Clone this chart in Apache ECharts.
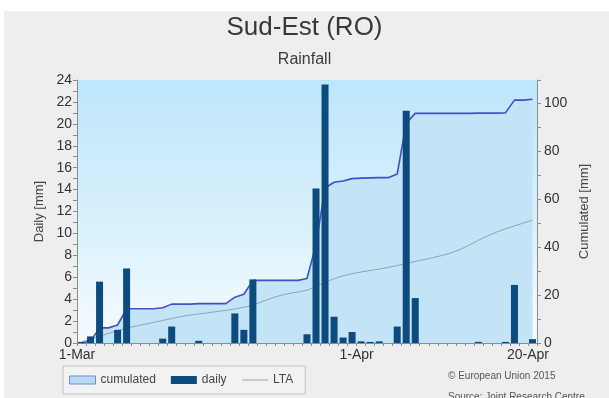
<!DOCTYPE html>
<html>
<head>
<meta charset="utf-8">
<title>Sud-Est (RO) - Rainfall</title>
<script src="https://cdn.jsdelivr.net/npm/echarts@6/dist/echarts.min.js"></script>
<style>
  html, body { margin: 0; padding: 0; background: #ffffff; }
  #frame { position: absolute; left: 4px; top: 11px; width: 605px; height: 387px; background: #eeeeee; }
  #chart { position: absolute; left: 0; top: 0; width: 609px; height: 398px; }
</style>
</head>
<body>
<div id="frame"></div>
<div id="chart"></div>
<script>
// Daily rainfall [mm], 1 March .. 20 April (51 days)
const daily = [
  0.1, 0.6, 5.6, 0, 1.2, 6.8, 0, 0, 0, 0.4,
  1.5, 0, 0, 0.2, 0, 0, 0, 2.7, 1.2, 5.8,
  0, 0, 0, 0, 0, 0.8, 14.1, 23.6, 2.4, 0.5,
  1.0, 0.15, 0.1, 0.15, 0, 1.5, 21.2, 4.1, 0, 0,
  0, 0, 0, 0, 0.1, 0, 0, 0.1, 5.3, 0,
  0.35
];

// Cumulated rainfall [mm] for the season
const cumulated = [
  0.1, 0.7, 6.3, 6.3, 7.5, 14.3, 14.3, 14.3, 14.3, 14.7,
  16.2, 16.2, 16.2, 16.4, 16.4, 16.4, 16.4, 19.1, 20.3, 26.1,
  26.1, 26.1, 26.1, 26.1, 26.1, 26.9, 41.0, 64.6, 67.0, 67.5,
  68.5, 68.7, 68.8, 68.9, 68.9, 70.4, 91.6, 95.7, 95.7, 95.7,
  95.7, 95.7, 95.7, 95.7, 95.8, 95.8, 95.8, 95.9, 101.2, 101.2,
  101.6
];

// Long-term average of the cumulated rainfall [mm]
const lta = [
  0.5, 1.5, 2.8, 4.0, 5.2, 6.2, 7.0, 7.8, 8.6, 9.4,
  10.2, 11.0, 11.6, 12.1, 12.6, 13.1, 13.6, 14.2, 14.9, 15.8,
  17.2, 18.6, 19.8, 20.6, 21.3, 22.0, 23.5, 25.2, 26.8, 28.0,
  28.9, 29.6, 30.2, 30.8, 31.5, 32.3, 33.2, 34.0, 34.8, 35.6,
  36.5, 37.6, 39.0, 40.8, 42.8, 44.6, 46.2, 47.6, 48.8, 50.0,
  51.2
];

// Date ticks (day offset from 1 March) and their labels
const tickPositions = [0, 31, 50];
const tickLabels = ['1-Mar', '1-Apr', '20-Apr'];

const FONT = 'Liberation Sans, Arial, sans-serif';
const AXIS_GREY = '#8c8c8c';

// each day occupies one unit; marks sit in the middle of their day
const atDay = arr => arr.map((v, i) => [i + 0.5, v]);

const chart = echarts.init(document.getElementById('chart'), null, { renderer: 'canvas' });

chart.setOption({
  animation: false,
  backgroundColor: 'transparent',
  textStyle: { fontFamily: FONT },
  title: [
    {
      text: 'Sud-Est (RO)',
      left: 'center',
      top: 10,
      textStyle: { fontSize: 26, fontWeight: 'normal', color: '#383838', fontFamily: FONT }
    },
    {
      text: 'Rainfall',
      left: 'center',
      top: 47,
      textStyle: { fontSize: 16, fontWeight: 'normal', color: '#3c3c3c', fontFamily: FONT }
    }
  ],
  grid: {
    left: 77,
    right: 72,
    top: 80,
    bottom: 55,
    show: true,
    borderWidth: 0,
    backgroundColor: {
      type: 'linear', x: 0, y: 0, x2: 0, y2: 1,
      colorStops: [
        { offset: 0, color: '#bde6fa' },
        { offset: 0.55, color: '#d9f1fc' },
        { offset: 0.9, color: '#f1f9fe' },
        { offset: 1, color: '#f4fbfe' }
      ]
    }
  },
  legend: {
    left: 63,
    top: 366,
    orient: 'horizontal',
    padding: [8, 12, 8, 6],
    itemGap: 15,
    itemWidth: 26,
    itemHeight: 8,
    borderColor: '#c4c4c4',
    borderWidth: 1,
    backgroundColor: '#f2f2f2',
    textStyle: { fontSize: 12, color: '#444', fontFamily: FONT },
    data: [
      { name: 'cumulated', icon: 'rect',
        itemStyle: { color: '#b8daf3', borderColor: '#6f8bd8', borderWidth: 1 } },
      { name: 'daily', icon: 'rect', itemStyle: { color: '#0d4b7e' } },
      { name: 'LTA', itemStyle: { opacity: 0 }, lineStyle: { color: '#8da4b4', width: 1 } }
    ]
  },
  graphic: [
    {
      type: 'text', left: 448, top: 371,
      style: { text: '\u00a9 European Union 2015', fontSize: 10, fill: '#555', fontFamily: FONT }
    },
    {
      type: 'text', left: 448, top: 392,
      style: { text: 'Source: Joint Research Centre', fontSize: 10, fill: '#555', fontFamily: FONT }
    }
  ],
  xAxis: {
    type: 'value',
    min: 0,
    max: 51,
    interval: 1,
    splitLine: { show: false },
    axisLine: { show: true, lineStyle: { color: AXIS_GREY } },
    axisTick: { show: true, length: 3, lineStyle: { color: AXIS_GREY } },
    axisLabel: {
      margin: 5,
      fontSize: 14,
      color: '#333',
      fontFamily: FONT,
      formatter: v => {
        const k = tickPositions.indexOf(Math.round(v));
        return k >= 0 && Math.abs(v - tickPositions[k]) < 1e-6 ? tickLabels[k] : '';
      }
    }
  },
  yAxis: [
    {
      type: 'value',
      min: 0,
      max: 24,
      interval: 2,
      position: 'left',
      name: 'Daily [mm]',
      nameLocation: 'middle',
      nameRotate: 90,
      nameGap: 28,
      nameTextStyle: { fontSize: 13, color: '#444', fontFamily: FONT },
      splitLine: { show: false },
      axisLine: { show: true, lineStyle: { color: AXIS_GREY } },
      axisTick: { show: true, length: 4, lineStyle: { color: AXIS_GREY } },
      minorTick: { show: true, splitNumber: 2, length: 4, lineStyle: { color: AXIS_GREY } },
      axisLabel: { margin: 5, fontSize: 14, color: '#333', fontFamily: FONT }
    },
    {
      type: 'value',
      min: 0,
      max: 109.6,
      interval: 20,
      position: 'right',
      name: 'Cumulated [mm]',
      nameLocation: 'middle',
      nameRotate: 90,
      nameGap: 37,
      nameTextStyle: { fontSize: 13, color: '#444', fontFamily: FONT },
      splitLine: { show: false },
      axisLine: { show: true, lineStyle: { color: AXIS_GREY } },
      axisTick: { show: true, length: 4, lineStyle: { color: AXIS_GREY } },
      minorTick: { show: true, splitNumber: 2, length: 4, lineStyle: { color: AXIS_GREY } },
      axisLabel: { margin: 7, fontSize: 14, color: '#333', fontFamily: FONT, showMaxLabel: false }
    }
  ],
  series: [
    {
      name: 'cumulated',
      type: 'line',
      yAxisIndex: 1,
      data: atDay(cumulated),
      symbol: 'none',
      z: 2,
      lineStyle: { color: '#3f50c8', width: 1.6 },
      itemStyle: { color: '#b8daf3' },
      areaStyle: { color: '#c3e3f6', opacity: 1 }
    },
    {
      name: 'LTA',
      type: 'line',
      yAxisIndex: 1,
      data: atDay(lta),
      symbol: 'none',
      z: 3,
      lineStyle: { color: '#8da4b4', width: 1 },
      itemStyle: { color: '#8da4b4' }
    },
    {
      name: 'daily',
      type: 'bar',
      yAxisIndex: 0,
      data: atDay(daily),
      barWidth: 7,
      z: 4,
      itemStyle: { color: '#0d4b7e' }
    }
  ]
});
</script>
</body>
</html>
